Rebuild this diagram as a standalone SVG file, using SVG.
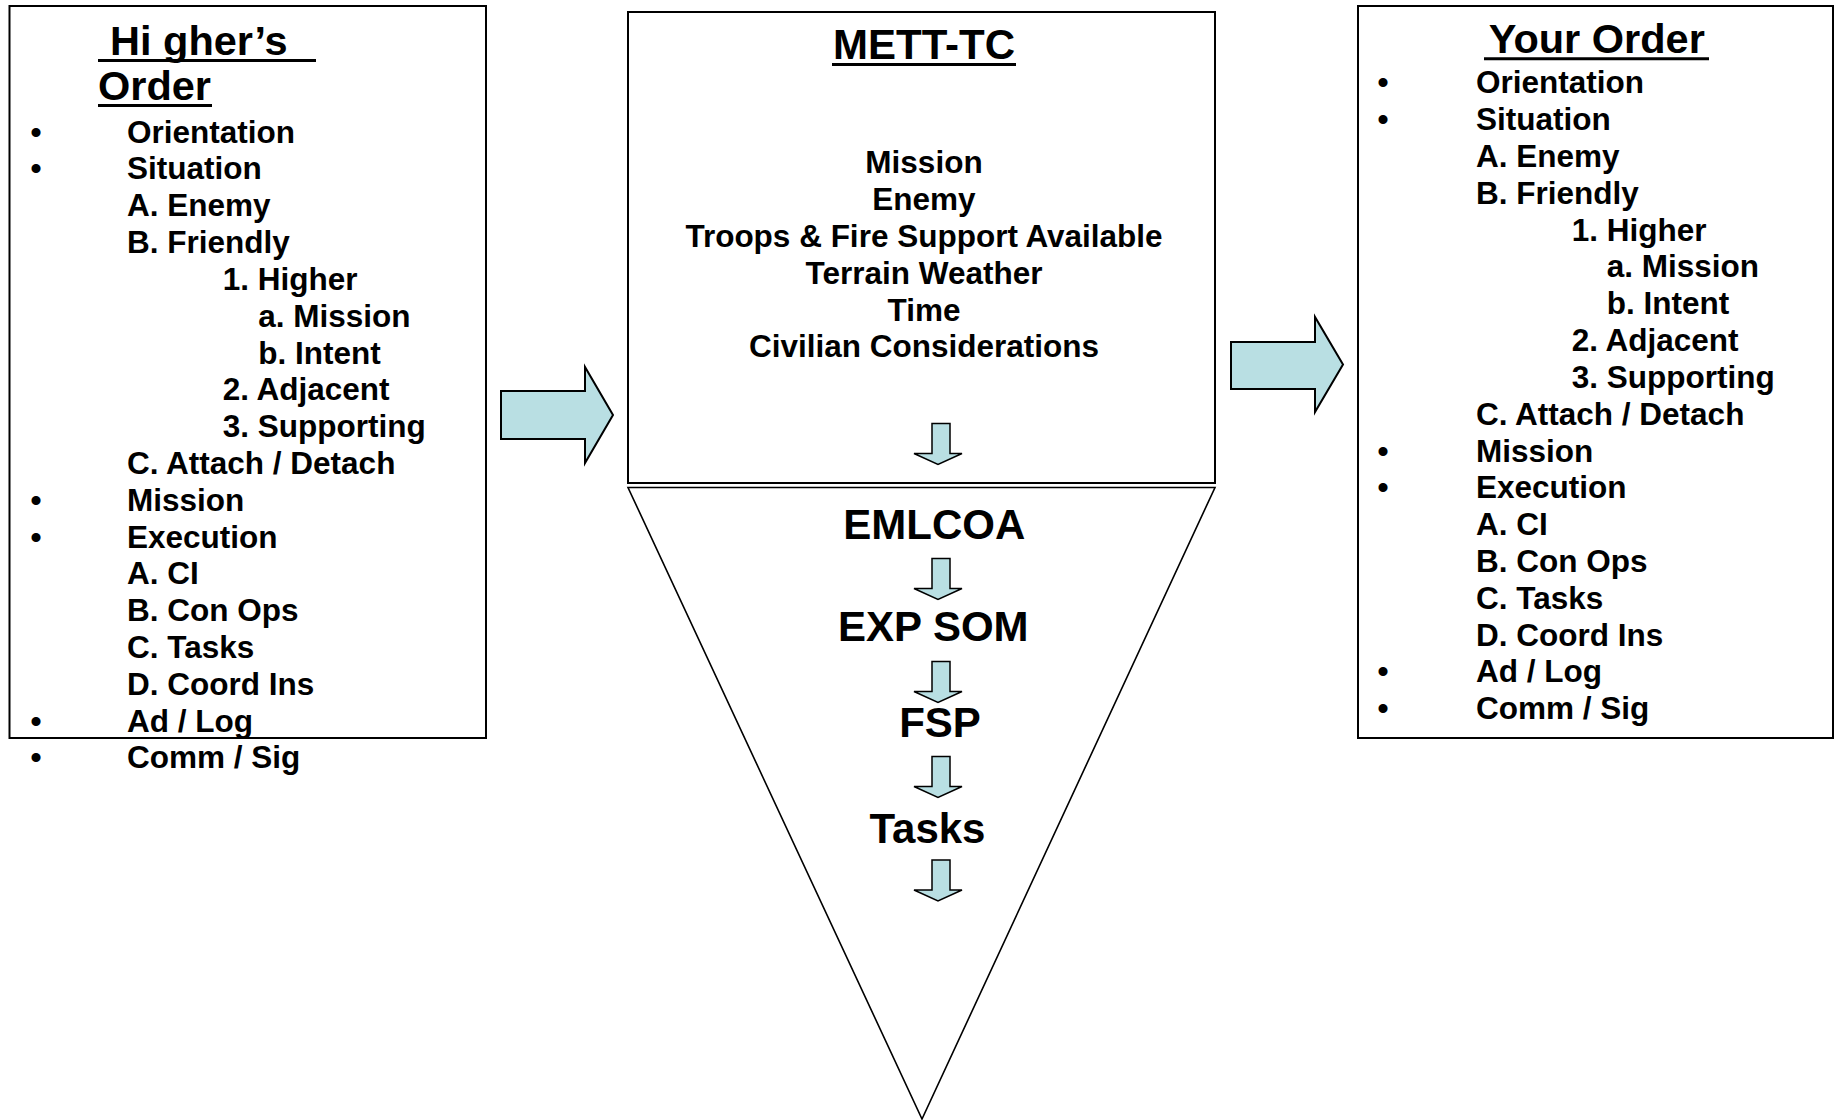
<svg xmlns="http://www.w3.org/2000/svg" width="1841" height="1120" viewBox="0 0 1841 1120">
  <style>
    .box { fill: #ffffff; stroke: #000000; stroke-width: 2; }
    .tri { fill: #ffffff; stroke: #000000; stroke-width: 1.6; }
    .t { font-family: "Liberation Sans", Arial, sans-serif; font-weight: bold; fill: #000000; }
    .title { font-size: 41.5px; }
    .item { font-size: 31.5px; }
    .big { font-size: 42px; }
    .ctr { text-anchor: middle; }
    .ul { stroke: #000000; stroke-width: 3; }
    .fat { fill: #b9dfe3; stroke: #000000; stroke-width: 2; stroke-linejoin: miter; }
    .thin { fill: #b9dfe3; stroke: #000000; stroke-width: 1.5; stroke-linejoin: miter; }
  </style>
  <defs>
    <path id="down" d="M -6 0 L 12 0 L 12 30 L 24 30 L 0 41 L -24 30 L -6 30 Z"/>
  </defs>
  <rect width="1841" height="1120" fill="#ffffff"/>

  <g id="higher-order">
    <rect class="box" x="9.5" y="6" width="476.5" height="732"/>
    <text class="t title" x="110" y="55">Hi gher’s</text>
    <line class="ul" x1="98" y1="60.5" x2="316" y2="60.5"/>
    <text class="t title" x="98" y="100">Order</text>
    <line class="ul" x1="98" y1="105.5" x2="212" y2="105.5"/>
    <g class="t item">
      <text x="36" y="142.6" text-anchor="middle">•</text>
      <text x="127" y="142.6">Orientation</text>
      <text x="36" y="179.4" text-anchor="middle">•</text>
      <text x="127" y="179.4">Situation</text>
      <text x="127" y="216.2">A. Enemy</text>
      <text x="127" y="253.0">B. Friendly</text>
      <text x="222.7" y="289.9">1. Higher</text>
      <text x="258.3" y="326.7">a. Mission</text>
      <text x="258.3" y="363.5">b. Intent</text>
      <text x="222.7" y="400.3">2. Adjacent</text>
      <text x="222.7" y="437.2">3. Supporting</text>
      <text x="127" y="474.0">C. Attach / Detach</text>
      <text x="36" y="510.8" text-anchor="middle">•</text>
      <text x="127" y="510.8">Mission</text>
      <text x="36" y="547.6" text-anchor="middle">•</text>
      <text x="127" y="547.6">Execution</text>
      <text x="127" y="584.4">A. CI</text>
      <text x="127" y="621.2">B. Con Ops</text>
      <text x="127" y="658.0">C. Tasks</text>
      <text x="127" y="694.8">D. Coord Ins</text>
      <text x="36" y="731.6" text-anchor="middle">•</text>
      <text x="127" y="731.6">Ad / Log</text>
      <text x="36" y="768.4" text-anchor="middle">•</text>
      <text x="127" y="768.4">Comm / Sig</text>
    </g>
  </g>

  <g id="mett-tc">
    <rect class="box" x="628" y="12" width="587" height="471"/>
    <text class="t big ctr" x="924" y="59">METT-TC</text>
    <line class="ul" x1="832" y1="64.5" x2="1016" y2="64.5"/>
    <g class="t item ctr">
      <text x="924" y="173.3">Mission</text>
      <text x="924" y="210.1">Enemy</text>
      <text x="924" y="246.9">Troops &amp; Fire Support Available</text>
      <text x="924" y="283.7">Terrain Weather</text>
      <text x="924" y="320.5">Time</text>
      <text x="924" y="357.3">Civilian Considerations</text>
    </g>
  </g>

  <g id="funnel">
    <polygon class="tri" points="628,487.5 1215,487.5 922,1119"/>
    <g class="t big ctr">
      <text x="934.3" y="539.3">EMLCOA</text>
      <text x="933.3" y="640.7">EXP SOM</text>
      <text x="940" y="737.3">FSP</text>
      <text x="927.5" y="843.3">Tasks</text>
    </g>
  </g>

  <g id="your-order">
    <rect class="box" x="1358" y="6" width="475" height="732"/>
    <text class="t title ctr" x="1596.8" y="53.3">Your Order</text>
    <line class="ul" x1="1484" y1="58.8" x2="1709" y2="58.8"/>
    <g class="t item">
      <text x="1383" y="93.3" text-anchor="middle">•</text>
      <text x="1476" y="93.3">Orientation</text>
      <text x="1383" y="130.1" text-anchor="middle">•</text>
      <text x="1476" y="130.1">Situation</text>
      <text x="1476" y="166.9">A. Enemy</text>
      <text x="1476" y="203.8">B. Friendly</text>
      <text x="1571.7" y="240.6">1. Higher</text>
      <text x="1606.7" y="277.4">a. Mission</text>
      <text x="1606.7" y="314.2">b. Intent</text>
      <text x="1571.7" y="351.0">2. Adjacent</text>
      <text x="1571.7" y="387.9">3. Supporting</text>
      <text x="1476" y="424.7">C. Attach / Detach</text>
      <text x="1383" y="461.5" text-anchor="middle">•</text>
      <text x="1476" y="461.5">Mission</text>
      <text x="1383" y="498.3" text-anchor="middle">•</text>
      <text x="1476" y="498.3">Execution</text>
      <text x="1476" y="535.1">A. CI</text>
      <text x="1476" y="571.9">B. Con Ops</text>
      <text x="1476" y="608.7">C. Tasks</text>
      <text x="1476" y="645.5">D. Coord Ins</text>
      <text x="1383" y="682.3" text-anchor="middle">•</text>
      <text x="1476" y="682.3">Ad / Log</text>
      <text x="1383" y="719.1" text-anchor="middle">•</text>
      <text x="1476" y="719.1">Comm / Sig</text>
    </g>
  </g>

  <g id="connectors">
    <polygon class="fat" points="501,391 585,391 585,367 613,415 585,463 585,439 501,439"/>
    <polygon class="fat" points="1231,342 1315,342 1315,317 1343,364.5 1315,412 1315,389 1231,389"/>
    <use class="thin" href="#down" x="938" y="423.5"/>
    <use class="thin" href="#down" x="938" y="558.5"/>
    <use class="thin" href="#down" x="938" y="661.5"/>
    <use class="thin" href="#down" x="938" y="756.5"/>
    <use class="thin" href="#down" x="938" y="860"/>
  </g>
</svg>
